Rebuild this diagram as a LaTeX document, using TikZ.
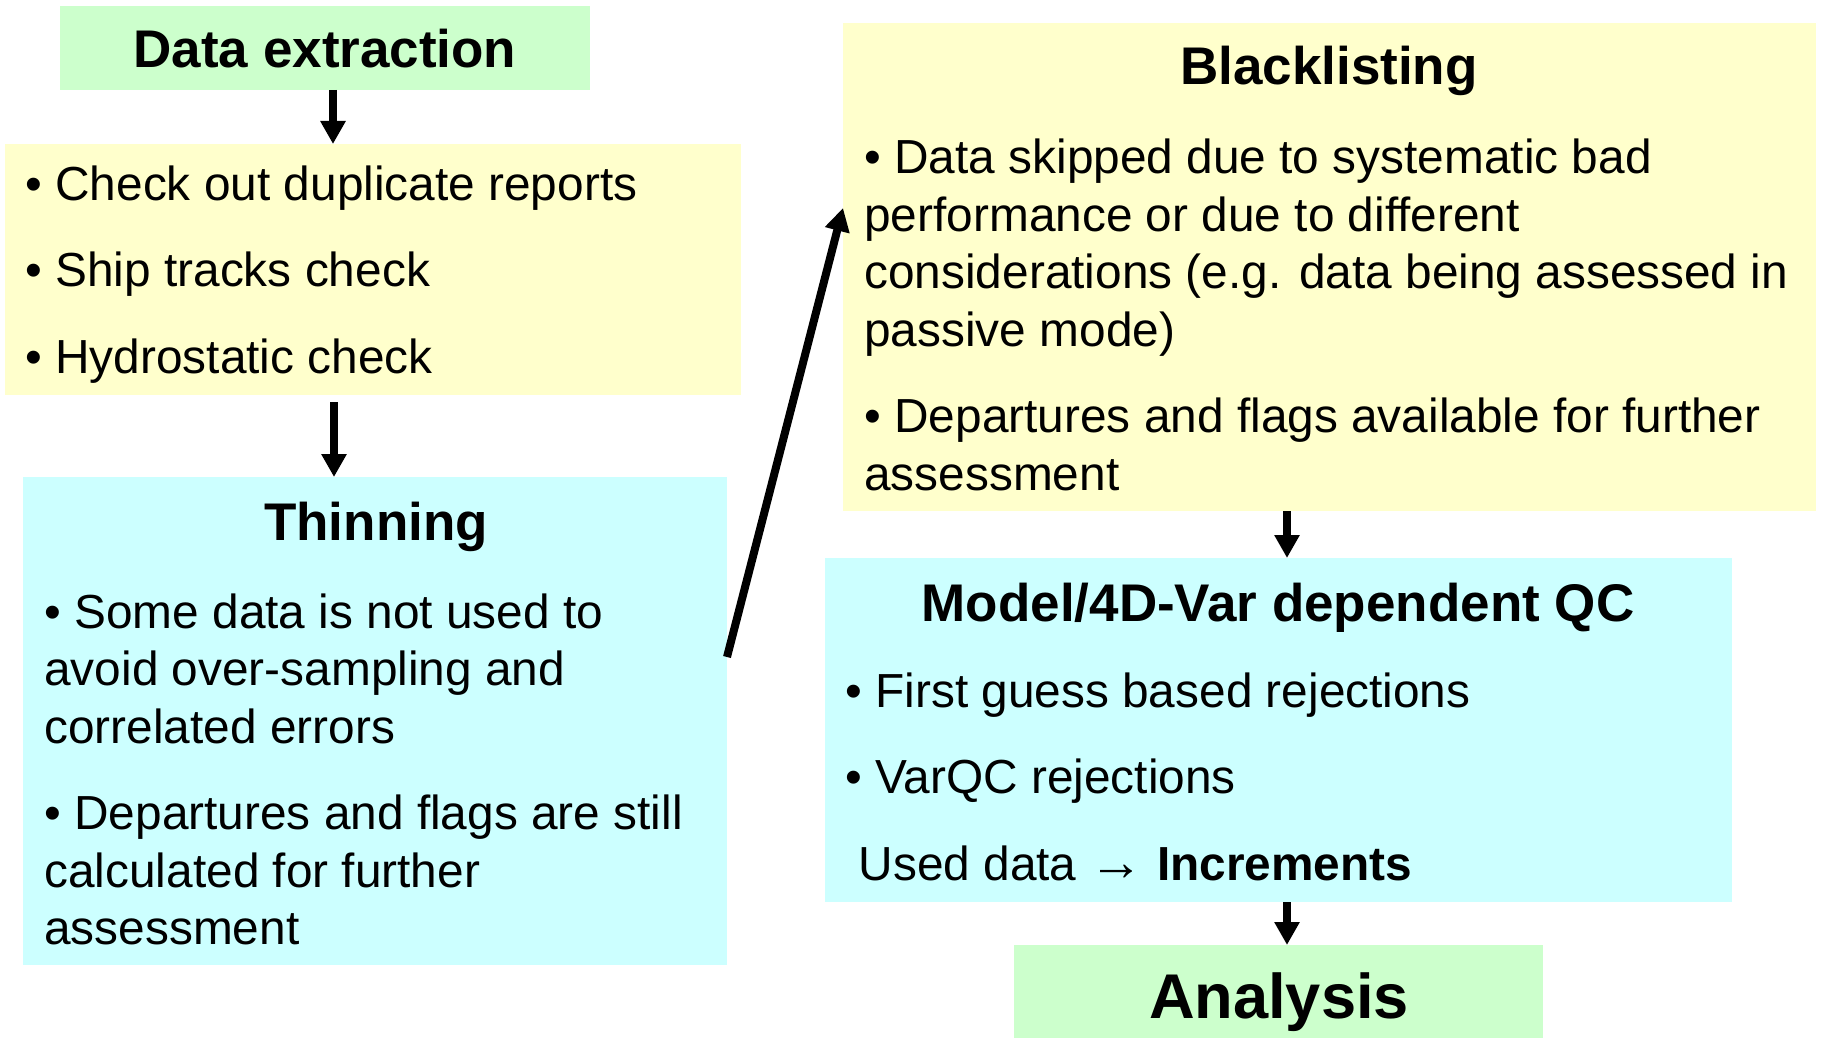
\documentclass[tikz,border=0pt]{standalone}
\usepackage{fontspec}
\setmainfont{Liberation Sans}
\usetikzlibrary{arrows.meta}

\definecolor{boxgreen}{HTML}{CCFFCC}
\definecolor{boxyellow}{HTML}{FFFFCC}
\definecolor{boxcyan}{HTML}{CCFFFF}

\tikzset{
  panel/.style={inner sep=0pt, outer sep=0pt},
  heading/.style={anchor=base, inner sep=0pt, font=\bfseries\fontsize{26.5}{31}\selectfont},
  % anchored at the baseline of the last line
  bodytext/.style={anchor=base west, inner sep=0pt, align=left,
    font=\fontsize{23.9}{28.75}\selectfont},
  flow/.style={line width=4pt, -{Triangle[length=11.5pt,width=12pt]}},
}

\begin{document}
\begin{tikzpicture}[x=0.5pt,y=-0.5pt]
  \useasboundingbox (0,0) rectangle (1825,1038);

  % boxes
  \node[panel, fill=boxgreen, minimum width=265pt, minimum height=42pt] (dext) at (325,48) {};
  \node[panel, fill=boxyellow, minimum width=368pt, minimum height=125.5pt] (chk) at (373,269.5) {};
  \node[panel, fill=boxcyan, minimum width=352pt, minimum height=244pt] (thin) at (375,721) {};
  \node[panel, fill=boxyellow, minimum width=486.5pt, minimum height=244pt] (black) at (1329.5,267) {};
  \node[panel, fill=boxcyan, minimum width=453.5pt, minimum height=172pt] (model) at (1278.5,730) {};
  \node[panel, fill=boxgreen, minimum width=264.5pt, minimum height=46.5pt] (anal) at (1278.5,991.5) {};

  % titles
  \node[heading] (dexttitle) at (325,68) {Data extraction};
  \node[heading] (thintitle) at (376,540) {Thinning};
  \node[heading] (blacktitle) at (1329,85) {Blacklisting};
  \node[heading] (modeltitle) at (1278,621) {Model/4D-Var dependent QC};
  \node[heading, font=\bfseries\fontsize{31.6}{36}\selectfont] (analtitle) at (1279,1018) {Analysis};

  % texts
  \node[bodytext] (chktext) at (25,373) {• Check out duplicate reports\\[14.5pt]
    • Ship tracks check\\[14.5pt]
    • Hydrostatic check};
  \node[bodytext] (thintext) at (44,944.5) {• Some data is not used to\\
    avoid over-sampling and\\
    correlated errors\\[14.5pt]
    • Departures and flags are still\\
    calculated for further\\
    assessment};
  \node[bodytext] (blacktext) at (864,490) {• Data skipped due to systematic bad\\
    performance or due to different\\
    considerations (e.g. data being assessed in\\
    passive mode)\\[14.5pt]
    • Departures and flags available for further\\
    assessment};
  \node[bodytext] (modeltext) at (845,880) {• First guess based rejections\\[14.5pt]
    • VarQC rejections\\[14.5pt]
    \ Used data {\bfseries\fontsize{27}{27}\selectfont →} \textbf{Increments}};

  % arrows
  \draw[flow] ([xshift=4pt]dext.south) -- ([xshift=4pt]dext.south |- chk.north);
  \draw[flow] ([shift={(-19.5pt,-3.5pt)}]chk.south) -- ([xshift=-19.5pt]chk.south |- thin.north);
  \draw[flow] ([yshift=32pt]thin.east) -- ([yshift=29.5pt]black.west);
  \draw[flow] ([xshift=-21.25pt]black.south) -- ([xshift=-21.25pt]black.south |- model.north);
  \draw[flow] ([xshift=4.25pt]model.south) -- ([xshift=4.25pt]model.south |- anal.north);
\end{tikzpicture}
\end{document}
